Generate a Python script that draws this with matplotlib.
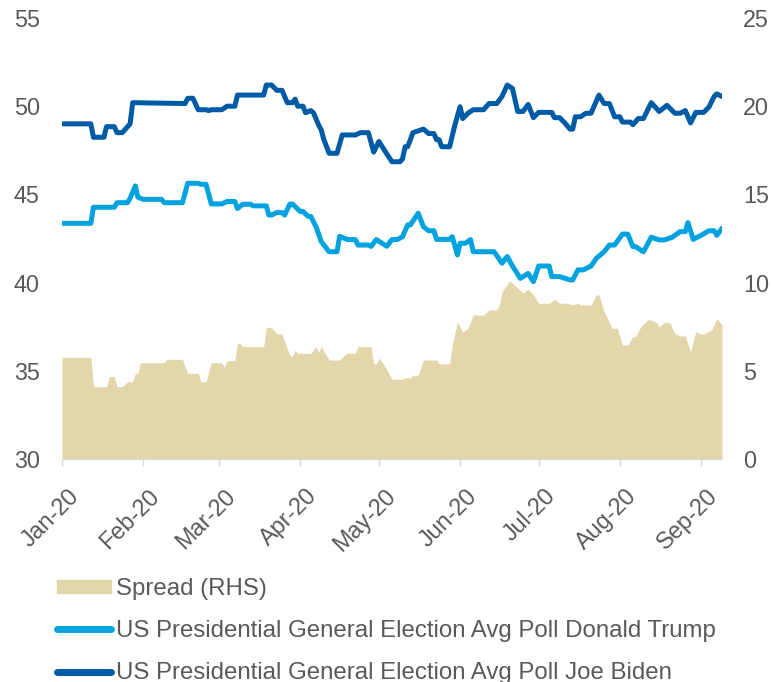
import pandas as pd
import matplotlib
matplotlib.use('Agg')
import matplotlib.pyplot as plt
import matplotlib.dates as mdates
from matplotlib.patches import Patch
from matplotlib.lines import Line2D
from matplotlib.transforms import ScaledTranslation

plt.rcParams['font.family'] = ['Liberation Sans', 'DejaVu Sans']
plt.rcParams['font.size'] = 16.8

START = pd.Timestamp('2020-01-01')

# days since 1 Jan 2020 and poll values
biden_days = [0, 11, 12, 16, 17, 20, 21, 23, 26, 27, 47, 48, 50, 52, 55, 56, 57, 61, 63, 66,
              67, 77, 78, 80, 82, 84, 86, 88, 89, 90, 92, 93, 95, 96, 98, 99, 100, 102, 105,
              107, 112, 114, 117, 119, 121, 124, 126, 129, 130, 131, 132, 134, 138, 140, 142,
              143, 144, 145, 148, 150, 152, 153, 155, 157, 161, 163, 166, 168, 170, 172, 174,
              176, 178, 180, 182, 187, 188, 190, 192, 194, 195, 196, 198, 200, 202, 205, 207,
              209, 211, 213, 214, 217, 218, 220, 222, 225, 228, 231, 234, 236, 238, 240, 242,
              245, 247, 249, 250, 252]
biden = [49.0, 49.0, 48.24, 48.24, 48.84, 48.84, 48.5, 48.5, 49.0, 50.2, 50.15, 50.45, 50.45,
         49.8, 49.8, 49.75, 49.8, 49.8, 50.0, 50.0, 50.63, 50.63, 51.2, 51.2, 50.9, 50.9, 50.2,
         50.2, 50.4, 50.0, 50.0, 49.63, 49.75, 49.63, 48.93, 48.65, 48.1, 47.33, 47.33, 48.37,
         48.37, 48.5, 48.5, 47.4, 48.0, 47.3, 46.85, 46.85, 47.0, 47.7, 47.7, 48.5, 48.7, 48.45,
         48.45, 48.1, 48.1, 47.7, 47.7, 48.93, 49.97, 49.3, 49.6, 49.8, 49.8, 50.15, 50.15,
         50.55, 51.2, 51.0, 49.7, 49.7, 50.1, 49.35, 49.65, 49.65, 49.35, 49.35, 49.05, 48.7,
         48.7, 49.4, 49.4, 49.6, 49.6, 50.63, 50.15, 50.15, 49.4, 49.4, 49.1, 49.1, 48.95, 49.3,
         49.3, 50.2, 49.7, 50.05, 49.6, 49.6, 49.75, 49.05, 49.65, 49.65, 49.95, 50.55, 50.7,
         50.55]

trump_days = [0, 11, 12, 20, 21, 25, 26, 28, 29, 31, 38, 39, 46, 48, 52, 53, 55, 57, 61, 63,
              66, 67, 69, 72, 73, 78, 79, 80, 82, 84, 85, 87, 88, 91, 92, 94, 95, 97, 99, 102,
              105, 106, 109, 112, 113, 117, 118, 120, 124, 126, 128, 130, 132, 133, 136, 138,
              140, 142, 143, 148, 149, 151, 152, 154, 156, 157, 165, 168, 170, 172, 175, 178,
              180, 182, 186, 187, 190, 194, 195, 197, 199, 202, 204, 207, 209, 211, 214, 216,
              218, 219, 222, 225, 228, 230, 233, 236, 238, 239, 241, 244, 247, 249, 250, 252]
trump = [43.36, 43.36, 44.27, 44.27, 44.53, 44.53, 44.78, 45.48, 44.84, 44.72, 44.72, 44.53,
         44.53, 45.63, 45.63, 45.57, 45.57, 44.46, 44.46, 44.6, 44.6, 44.2, 44.44, 44.44, 44.35,
         44.35, 43.83, 43.83, 43.97, 43.97, 43.83, 44.45, 44.45, 44.03, 44.03, 43.75, 43.75,
         43.17, 42.32, 41.75, 41.75, 42.62, 42.44, 42.44, 42.13, 42.13, 42.05, 42.44, 42.06,
         42.44, 42.44, 42.6, 43.27, 43.27, 43.93, 43.17, 42.94, 42.94, 42.45, 42.45, 42.6,
         41.57, 42.23, 42.23, 42.44, 41.75, 41.75, 41.1, 41.48, 40.94, 40.24, 40.52, 40.05,
         40.94, 40.94, 40.34, 40.34, 40.15, 40.15, 40.72, 40.72, 40.94, 41.37, 41.75, 42.13,
         42.13, 42.75, 42.75, 42.04, 42.04, 41.75, 42.57, 42.42, 42.42, 42.57, 42.89, 42.89,
         43.4, 42.45, 42.68, 42.94, 42.94, 42.68, 43.08]

spread_days = [0, 11, 12, 17, 18, 20, 21, 23, 25, 27, 28, 29, 30, 39, 40, 46, 48, 52, 53, 55,
               57, 61, 62, 63, 66, 67, 68, 69, 77, 78, 80, 82, 84, 87, 88, 89, 90, 95, 97, 98,
               99, 102, 106, 108, 109, 112, 113, 118, 119, 120, 121, 123, 126, 130, 131, 133,
               134, 136, 138, 143, 144, 148, 149, 151, 153, 155, 157, 161, 163, 166, 167, 168,
               171, 176, 178, 180, 182, 186, 188, 190, 193, 195, 197, 198, 202, 204, 205, 207,
               210, 212, 214, 216, 218, 219, 221, 224, 227, 228, 230, 232, 234, 236, 238, 240,
               242, 244, 245, 248, 249, 250, 252]
spread = [5.76, 5.76, 4.1, 4.1, 4.67, 4.67, 4.1, 4.1, 4.38, 4.38, 4.86, 4.86, 5.46, 5.46, 5.65,
          5.65, 4.86, 4.86, 4.38, 4.38, 5.46, 5.46, 5.2, 5.57, 5.57, 6.56, 6.56, 6.37, 6.37,
          7.45, 7.45, 7.09, 7.09, 5.84, 5.84, 6.14, 5.99, 5.99, 6.37, 6.03, 6.37, 5.61, 5.61,
          5.9, 6.0, 6.0, 6.37, 6.37, 5.39, 5.39, 5.71, 5.33, 4.52, 4.52, 4.6, 4.6, 4.75, 4.75,
          5.61, 5.61, 5.39, 5.39, 6.46, 7.78, 7.21, 7.4, 8.16, 8.16, 8.45, 8.45, 8.73, 9.49,
          10.1, 9.41, 9.64, 9.3, 8.83, 8.83, 9.05, 8.83, 8.83, 8.73, 8.83, 8.73, 8.73, 9.3, 9.3,
          8.36, 7.41, 7.41, 6.46, 6.46, 6.93, 6.93, 7.5, 7.92, 7.73, 7.5, 7.73, 7.73, 7.12, 6.97,
          6.97, 6.08, 7.21, 7.08, 7.08, 7.31, 7.6, 7.97, 7.6]

labels = ['Spread (RHS)',
          'US Presidential General Election Avg Poll Donald Trump',
          'US Presidential General Election Avg Poll Joe Biden']

GREY = '#595959'
SAND = '#E3D6AA'
LIGHT = '#00A3E0'
DARK = '#005BA6'

to_dates = lambda d: START + pd.to_timedelta(d, unit='D')

fig = plt.figure(figsize=(7.72, 6.82), dpi=100)
ax = fig.add_axes([62 / 772, 1 - 459 / 682, 660 / 772, 441 / 682])
ax2 = ax.twinx()

ax2.fill_between(to_dates(spread_days), spread, 0, color=SAND, lw=0)
ax.plot(to_dates(trump_days), trump, color=LIGHT, lw=3.6, solid_capstyle='round', solid_joinstyle='round')
ax.plot(to_dates(biden_days), biden, color=DARK, lw=3.6, solid_capstyle='round', solid_joinstyle='round')

ax.set_zorder(ax2.get_zorder() + 1)
ax.patch.set_visible(False)

ax.set_ylim(30, 55)
ax2.set_ylim(0, 25)
ax.set_xlim(to_dates(0), to_dates(252))

ax.xaxis.set_major_locator(mdates.MonthLocator())
ax.xaxis.set_major_formatter(mdates.DateFormatter('%b-%y'))

for a in (ax, ax2):
    for s in a.spines.values():
        s.set_visible(False)
ax.spines['bottom'].set_visible(True)
ax.spines['bottom'].set_color('#D9D9D9')
ax.spines['bottom'].set_zorder(0)

ax.tick_params(axis='x', colors='#D9D9D9', length=5, width=1, labelcolor=GREY, pad=4)
ax.tick_params(axis='y', length=0, labelcolor=GREY, pad=16)
ax2.tick_params(axis='y', length=0, labelcolor=GREY, pad=15)
shift = ScaledTranslation(5 / 100, -13 / 100, fig.dpi_scale_trans)
for t in ax.get_xticklabels():
    t.set_rotation(45)
    t.set_ha('right')
    t.set_rotation_mode('anchor')
    t.set_transform(t.get_transform() + shift)

handles = [Patch(color=SAND),
           Line2D([], [], color=LIGHT, lw=5, solid_capstyle='round'),
           Line2D([], [], color=DARK, lw=5, solid_capstyle='round')]
fig.legend(handles, labels, loc='upper left', bbox_to_anchor=(57 / 772, 1 - 578 / 682),
           frameon=False, borderpad=0, borderaxespad=0, handlelength=2.25, handleheight=0.5,
           handletextpad=0.22, labelspacing=0.84, labelcolor=GREY, fontsize=17.3)

fig.savefig('out.png', dpi=100)
